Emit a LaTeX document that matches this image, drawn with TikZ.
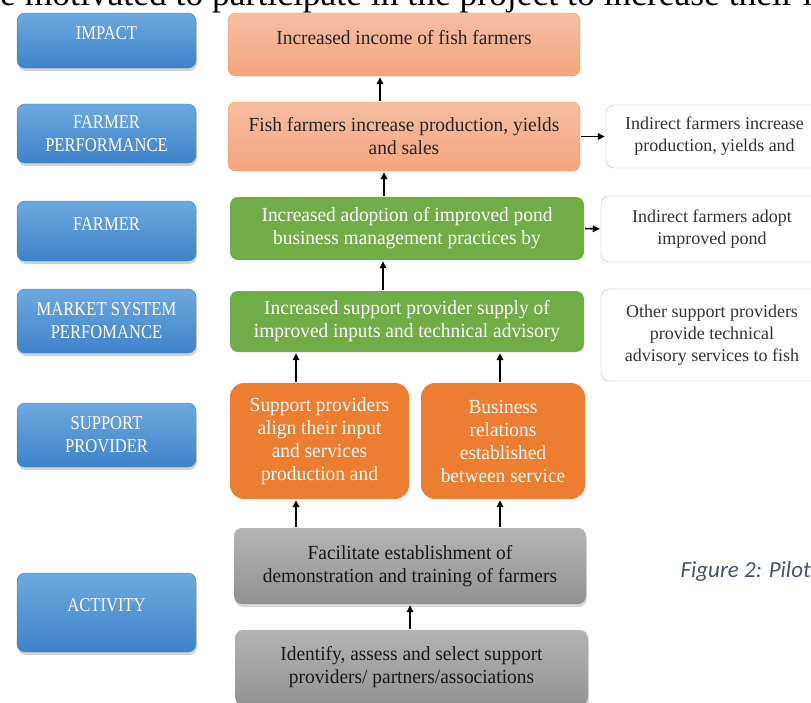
\documentclass[tikz,border=0pt]{standalone}
\usepackage{fontspec}
\setmainfont{Liberation Serif}
\newfontfamily\schmal[FakeStretch=0.85]{Liberation Serif}
\newfontfamily\mittel[FakeStretch=0.97]{Liberation Serif}
\newfontfamily\capfont{Carlito}
\usetikzlibrary{shadows,arrows.meta}

\definecolor{blauOben}{HTML}{6EA9E0}
\definecolor{blauUnten}{HTML}{3E82C9}
\definecolor{lachsOben}{HTML}{F7BEA2}
\definecolor{lachsUnten}{HTML}{F4A47E}
\definecolor{lachsRand}{HTML}{F0904F}
\definecolor{gruenBox}{HTML}{70AD47}
\definecolor{orangeBox}{HTML}{ED7D31}
\definecolor{grauOben}{HTML}{B4B4B4}
\definecolor{grauUnten}{HTML}{929292}
\definecolor{rahmen}{HTML}{BBBBBB}
\definecolor{unterschrift}{HTML}{44546A}

\begin{document}
\begin{tikzpicture}[x=1pt,y=-1pt,
    box/.style={rounded corners=8pt, align=center, inner sep=2pt,
        font=\mittel\fontsize{20}{23}\selectfont},
    ebene/.style={box, top color=blauOben, bottom color=blauUnten, draw=blauUnten,
        text=white, minimum width=179pt, font=\schmal\fontsize{19.5}{23}\selectfont,
        drop shadow={opacity=0.35, shadow xshift=1pt, shadow yshift=-3pt}},
    lachs/.style={box, top color=lachsOben, bottom color=lachsUnten, draw=lachsRand,
        text=black!85},
    gruen/.style={box, fill=gruenBox, text=white, minimum width=354pt},
    orange/.style={box, fill=orangeBox, text=white, rounded corners=14pt,
        minimum height=116pt},
    grau/.style={box, top color=grauOben, bottom color=grauUnten, text=black!90,
        drop shadow={opacity=0.3, shadow xshift=1pt, shadow yshift=-3pt}},
    rand/.style={draw=rahmen, fill=white, rounded corners=8pt, align=center,
        text=black!80, font=\fontsize{18}{22}\selectfont},
    hoch/.style={text depth=14pt},
    pfeil/.style={line width=1.6pt, -{Triangle[length=7pt,width=6.5pt]},
        shorten <=1pt, shorten >=1pt}]
    \useasboundingbox (0,0) rectangle (811,702);
    \clip (0,0) rectangle (811,702);

    % Text darueber
    \node[anchor=base west, inner sep=0pt, font=\fontsize{35.5}{38}\selectfont] (kopf) at (0,5)
        {e motivated to participate in the project to increase their in};

    % Ebenen
    \node[ebene, hoch, minimum height=55pt] (impact) at (106.5,40.5) {IMPACT};
    \node[ebene, minimum height=59pt] (perfLevel) at (106.5,133.5) {FARMER\\PERFORMANCE};
    \node[ebene, hoch, minimum height=60pt] (farmerLevel) at (106.5,231) {FARMER};
    \node[ebene, minimum height=64pt] (marketLevel) at (106.5,321) {MARKET SYSTEM\\PERFOMANCE};
    \node[ebene, minimum height=64pt] (supportLevel) at (106.5,435) {SUPPORT\\PROVIDER};
    \node[ebene, hoch, minimum height=79pt] (activityLevel) at (106.5,612.5) {ACTIVITY};

    % Kette
    \node[lachs, hoch, minimum width=352pt, minimum height=63pt] (income) at (404,44.5)
        {Increased income of fish farmers};
    \node[lachs, minimum width=352pt, minimum height=69pt] (production) at (404,136.5)
        {Fish farmers increase production, yields\\and sales};
    \node[gruen, minimum height=63pt] (adoption) at (407,228.5)
        {Increased adoption of improved pond\\business management practices by};
    \node[gruen, minimum height=61pt] (supply) at (407,321.5)
        {Increased support provider supply of\\improved inputs and technical advisory};
    \node[orange, minimum width=179pt] (align) at (319.5,441)
        {Support providers\\align their input\\and services\\production and};
    \node[orange, minimum width=164pt] (relations) at (503,441)
        {Business\\relations\\established\\between service};
    \node[grau, minimum width=352pt, minimum height=76pt] (facilitate) at (410,566)
        {Facilitate establishment of\\demonstration and training of farmers};
    \node[grau, minimum width=353pt, minimum height=75pt] (identify) at (411.5,667.5)
        {Identify, assess and select support\\providers/ partners/associations};

    % Rechts
    \node[rand, minimum width=217pt, minimum height=63pt] (indirectOne) at (714.5,136.5)
        {Indirect farmers increase\\production, yields and};
    \node[rand, minimum width=222pt, minimum height=66pt] (indirectTwo) at (712,229)
        {Indirect farmers adopt\\improved pond};
    \node[rand, minimum width=222pt, minimum height=92pt] (others) at (712,335)
        {Other support providers\\provide technical\\advisory services to fish};

    \node[anchor=base west, text=unterschrift, font=\capfont\itshape\fontsize{23}{25}\selectfont]
        (bild) at (677,577) {Figure 2: Pilot};

    % Pfeile
    \draw[pfeil] ([xshift=-24pt]production.north) -- ([xshift=-24pt]income.south);
    \draw[pfeil] ([xshift=-23pt]adoption.north) -- ([xshift=-20pt]production.south);
    \draw[pfeil] ([xshift=-24pt]supply.north) -- ([xshift=-24pt]adoption.south);
    \draw[pfeil] ([xshift=-23.5pt]align.north) -- ([xshift=-111pt]supply.south);
    \draw[pfeil] ([xshift=-3pt]relations.north) -- ([xshift=93pt]supply.south);
    \draw[pfeil] ([xshift=-114pt]facilitate.north) -- ([xshift=-23.5pt]align.south);
    \draw[pfeil] ([xshift=90pt]facilitate.north) -- ([xshift=-3pt]relations.south);
    \draw[pfeil] ([xshift=-1.5pt]identify.north) -- (facilitate.south);
    \draw[pfeil] (production.east) -- (indirectOne.west);
    \draw[pfeil] (adoption.east) -- (indirectTwo.west);
\end{tikzpicture}
\end{document}
